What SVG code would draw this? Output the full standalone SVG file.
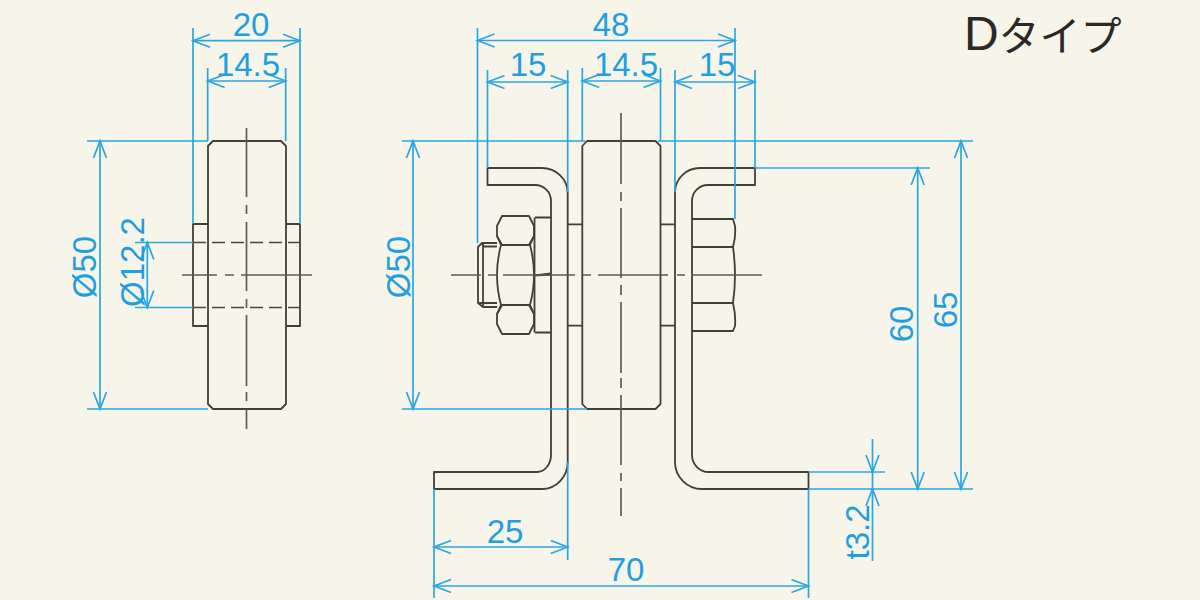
<svg xmlns="http://www.w3.org/2000/svg" width="1200" height="600" viewBox="0 0 1200 600">
<style>
.d{fill:none;stroke:#423e39;stroke-width:1.8;stroke-linejoin:round}
.c{fill:none;stroke:#5f5a52;stroke-width:1.7}
.h{fill:none;stroke:#4a4640;stroke-width:1.7;stroke-dasharray:13 6}
.e{fill:none;stroke:#2ba6e2;stroke-width:1.7}
.a{fill:none;stroke:#2ba6e2;stroke-width:1.7;marker-start:url(#arr);marker-end:url(#arr)}
.a1{fill:none;stroke:#2ba6e2;stroke-width:1.7;marker-end:url(#arr)}
.t{font-family:"Liberation Sans",Arial,sans-serif;font-size:33px;fill:#1f9fe0;text-anchor:middle}
.n{font-family:"Liberation Sans","Noto Sans CJK JP",sans-serif;font-size:48px;fill:#2b2825}
.k{font-family:"Noto Sans CJK JP","Liberation Sans",sans-serif;font-size:41px;fill:#2b2825}
</style>
<defs>
<marker id="arr" markerUnits="userSpaceOnUse" markerWidth="22" markerHeight="18" refX="18" refY="9" orient="auto-start-reverse" viewBox="0 0 22 18">
<path d="M1 2.500L18 9L1 15.500" fill="none" stroke="#2ba6e2" stroke-width="1.700"/>
</marker>
</defs>
<rect width="1200" height="600" fill="#f7f4ea"/>

<g id="wheel-side">
<path class="d" d="M213 141H281L286 146V404L281 409H213L208 404V146Z"/>
<path class="d" d="M208 224H193V326H208M286 224H300V326H286"/>
<path class="h" d="M193 242.500H300M193 307.500H300"/>
<path class="c" d="M246.500 128V197M246.500 205V214M246.500 222V291M246.500 299V308M246.500 315V386M246.500 392V401M246.500 409V429M182 275H217M225 275H234M241 275H312"/>
</g>

<g id="bracket-left">
<path class="d" d="M487.500 168H542A25.700 25 0 0 1 567.700 193V462A25.700 27 0 0 1 542 489H434V472H537A14 17 0 0 0 551 455V201A16 16 0 0 0 535 185H487.500Z"/>
</g>

<g id="bracket-right">
<path class="d" d="M755 168H700A25 24 0 0 0 675 192V462A27 27 0 0 0 702 489H808.500V472H709A17 17 0 0 1 692 455V201A16 16 0 0 1 708 185H755Z"/>
</g>

<g id="wheel-front">
<path class="d" d="M587 141H655.500L660.500 146V404L655.500 409H587L582.300 404V146Z"/>
<path class="d" d="M568 224.300H582.300M568 325.700H582.300M660.500 224.300H675M660.500 325.700H675"/>
</g>

<g id="bolt-nut-left">
<path class="d" d="M535 217.500H551M535 332.500H551M534.500 217.500V332.500"/>
<path class="d" d="M502 216H529L534 226V236L529 245H502L497 236V226Z"/>
<path class="d" d="M502 334H529L534 324V314L529 305H502L497 314V324Z"/>
<path class="d" d="M501 245Q493 275 501 305M530 245Q538 275 530 305M497 236L501 245M534 236L530 245M497 314L501 305M534 314L530 305"/>
<path class="d" d="M497 243H482L478 247V303L483 307H497M483 243V307M483 246.500H497M478 303H497"/>
<path d="M534 274.500L551 272.500V275.500L534 276.500Z" fill="#423e39"/>
</g>

<g id="nut-right">
<path class="d" d="M692 219H733L735 226Q736 236 733 247H692M733 247Q737 275 733 303H692M733 303Q736 316 735 326L733 331H692"/>
</g>

<g id="centerlines-front">
<path class="c" d="M621 113V184M621 192V201M621 208V278M621 285V295M621 302V373M621 378V388M621 395V465M621 473V481M621 488V516"/>
<path class="c" d="M451 275H481M488 275H497M503 275H575M583 275H591M598 275H668M677 275H685M692 275H762"/>
</g>

<g id="connectors">
<path class="e" d="M193 28V224M300 28V224M207.700 68V141M285.700 68V141"/>
<path class="a" d="M193 40.700H300"/>
<path class="a" d="M207.700 81H285.700"/>
<path class="e" d="M87 141H208M87 409H208"/>
<path class="a" d="M100 141V409"/>
<path class="e" d="M135 242.500H193M135 307.500H193"/>
<path class="a" d="M147.300 242.500V307.500"/>

<path class="e" d="M477.500 28V243M735 28V219M487.500 70V168M567.700 70V192M582.300 68V141M660.500 68V141M675 70V192M755 70V168"/>
<path class="a" d="M477.500 40.500H735"/>
<path class="a" d="M487.500 82H567.700"/>
<path class="a" d="M582.300 81H660.500"/>
<path class="a" d="M675 82H755"/>
<path class="e" d="M402 141H585M402 409H587M658 141H973M755 168H930M808.500 489H973M808.500 472H885"/>
<path class="a" d="M413 141V409"/>
<path class="a" d="M917.700 168V489"/>
<path class="a" d="M961 141V489"/>
<path class="a1" d="M872.500 439V472"/>
<path class="a1" d="M872.500 561V489"/>
<path class="e" d="M872.500 472V489"/>
<path class="e" d="M434 489V598M808.500 489V598M567.700 462V560"/>
<path class="a" d="M434 547H567.700"/>
<path class="a" d="M434 586H808.500"/>
</g>

<g id="labels">
<text class="t" x="251" y="36">20</text>
<text class="t" x="248" y="76">14.5</text>
<text class="t" transform="translate(96 267) rotate(-90)">Ø50</text>
<text class="t" transform="translate(143.500 262) rotate(-90)">Ø12.2</text>
<text class="t" x="611" y="36">48</text>
<text class="t" x="528" y="76">15</text>
<text class="t" x="626" y="76">14.5</text>
<text class="t" x="717" y="76">15</text>
<text class="t" transform="translate(410 267) rotate(-90)">Ø50</text>
<text class="t" transform="translate(913 324) rotate(-90)">60</text>
<text class="t" transform="translate(957 310) rotate(-90)">65</text>
<text class="t" transform="translate(869 532) rotate(-90)">t3.2</text>
<text class="t" x="505" y="543">25</text>
<text class="t" x="626" y="581">70</text>
<text class="n" x="964" y="50">D</text>
<text class="k" x="998.500" y="51">タイプ</text>
</g>
</svg>
